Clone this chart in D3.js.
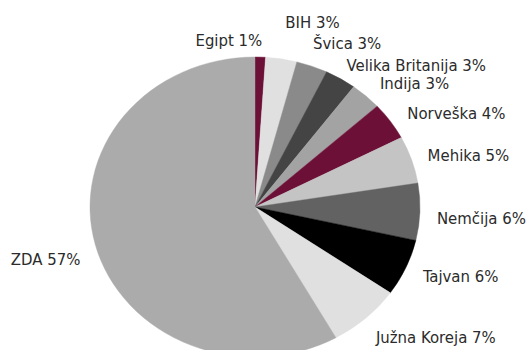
<!DOCTYPE html>
<html>
<head>
<meta charset="utf-8">
<script src="https://cdn.jsdelivr.net/npm/d3@7/dist/d3.min.js"></script>
<style>
  html, body { margin: 0; padding: 0; background: #fff; }
  svg { display: block; }
  .lbl { font-family: "DejaVu Sans Condensed", "DejaVu Sans", sans-serif; font-stretch: condensed; font-size: 16.6px; fill: #2b2b2b; }
</style>
</head>
<body>
<svg id="chart" width="527" height="350"></svg>
<script>
// Shares by country (percent), clockwise from 12 o'clock
const countries = ["Egipt", "BIH", "Švica", "Velika Britanija", "Indija", "Norveška",
                   "Mehika", "Nemčija", "Tajvan", "Južna Koreja", "ZDA"];
const shares = [1, 3, 3, 3, 3, 4, 5, 6, 6, 7, 57];
const colors = ["#6d1037", "#e0e0e0", "#8a8a8a", "#444444", "#a3a3a3", "#6d1037",
                "#c4c4c4", "#626262", "#000000", "#e0e0e0", "#ababab"];

// Label nudges relative to each slice's outer midpoint: [dx, dy, anchor]
const labelNudge = [
  [2, -17, "end"], [4, -37, "start"], [1, -23, "start"], [6, -14, "start"],
  [14, -13, "start"], [17, -8, "start"], [16, -5, "start"], [17, 6, "start"],
  [17, 8, "start"], [10, 19, "start"], [-15, 14, "end"]
];

const cx = 255, cy = 207, r = 150, xStretch = 1.1;

const data = countries.map((c, i) => ({ name: c, value: shares[i], color: colors[i], nudge: labelNudge[i] }));

const svg = d3.select("#chart");
const pie = d3.pie().value(d => d.value).sort(null);
const arc = d3.arc().innerRadius(0).outerRadius(r);
const arcs = pie(data);

// The pie is drawn slightly wider than tall
const g = svg.append("g").attr("transform", `translate(${cx},${cy}) scale(${xStretch},1)`);
g.selectAll("path")
  .data(arcs)
  .enter().append("path")
  .attr("d", arc)
  .attr("fill", d => d.data.color)
  .attr("stroke", d => d.data.color)
  .attr("stroke-width", 0.4);

svg.selectAll("text.lbl")
  .data(arcs)
  .enter().append("text")
  .attr("class", "lbl")
  .attr("x", d => {
    const a = (d.startAngle + d.endAngle) / 2;
    return cx + xStretch * r * Math.sin(a) + d.data.nudge[0];
  })
  .attr("y", d => {
    const a = (d.startAngle + d.endAngle) / 2;
    return cy - r * Math.cos(a) + d.data.nudge[1];
  })
  .attr("dy", "0.36em")
  .attr("text-anchor", d => d.data.nudge[2])
  .text(d => `${d.data.name} ${d.data.value}%`);
</script>
</body>
</html>
